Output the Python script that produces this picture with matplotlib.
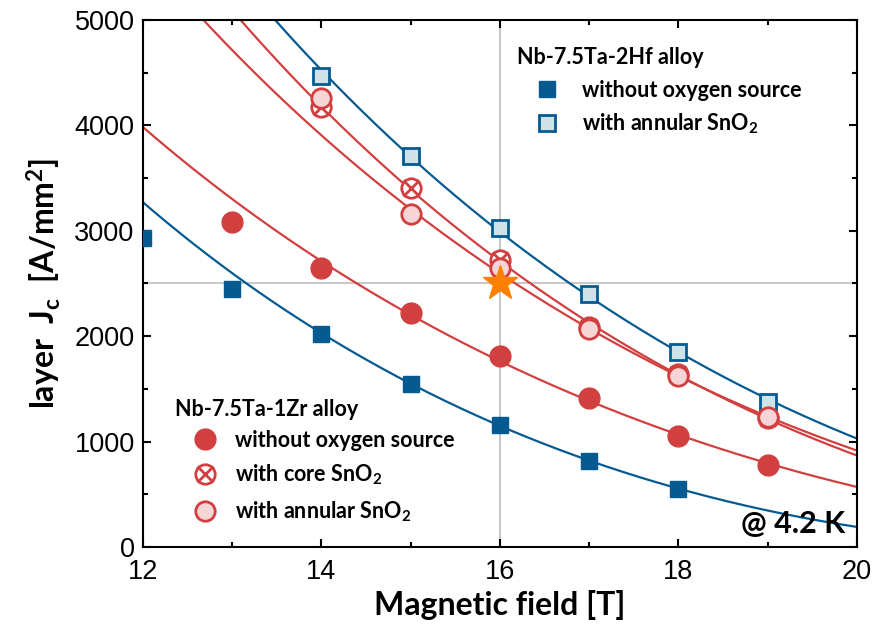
import numpy as np
import matplotlib.pyplot as plt
from matplotlib.lines import Line2D
from matplotlib.legend_handler import HandlerTuple

plt.rcParams["font.family"] = ["Liberation Sans", "DejaVu Sans"]
plt.rcParams["mathtext.fontset"] = "custom"
plt.rcParams["mathtext.rm"] = "Lato:bold"
plt.rcParams["mathtext.bf"] = "Lato:bold"
plt.rcParams["mathtext.it"] = "Lato:bold"

BLUE = "#055a92"
RED = "#d23f3f"
LIGHT_BLUE = "#cfe2e7"
PINK = "#f6d5d7"

# Nb-7.5Ta-2Hf alloy
hf_without_B = [12, 13, 14, 15, 16, 17, 18]
hf_without_J = [2930, 2450, 2020, 1550, 1160, 820, 550]
hf_annular_B = [14, 15, 16, 17, 18, 19]
hf_annular_J = [4470, 3710, 3030, 2400, 1850, 1380]

# Nb-7.5Ta-1Zr alloy
zr_without_B = [13, 14, 15, 16, 17, 18, 19]
zr_without_J = [3080, 2650, 2220, 1810, 1410, 1050, 780]
zr_core_B = [14, 15, 16, 17, 18, 19]
zr_core_J = [4170, 3410, 2720, 2090, 1640, 1220]
zr_annular_B = [14, 15, 16, 17, 18, 19]
zr_annular_J = [4260, 3160, 2650, 2070, 1620, 1230]

# lowest field used in each Kramer fit (lower points left out of the fit)
fit_from = {"hf_without": 14, "hf_annular": 14, "zr_without": 14, "zr_core": 14, "zr_annular": 15}

target_B = 16
target_J = 2500


def kramer_curve(B, J, bmin):
    B = np.asarray(B, float)
    J = np.asarray(J, float)
    m = B >= bmin
    k = np.sqrt(J[m]) * B[m] ** 0.25
    slope, icpt = np.polyfit(B[m], k, 1)
    bb = np.linspace(11.5, 20.5, 300)
    kk = np.clip(slope * bb + icpt, 0, None)
    return bb, (kk / bb ** 0.25) ** 2


fig = plt.figure(figsize=(8.75, 6.28), dpi=100)
ax = fig.add_axes([0.1634, 0.129, 0.8160, 0.8392])

ax.axhline(target_J, color="#bdbdbd", lw=1.2, zorder=0)
ax.axvline(target_B, color="#bdbdbd", lw=1.2, zorder=0)

series = [
    ("hf_without", hf_without_B, hf_without_J, BLUE),
    ("hf_annular", hf_annular_B, hf_annular_J, BLUE),
    ("zr_without", zr_without_B, zr_without_J, RED),
    ("zr_core", zr_core_B, zr_core_J, RED),
    ("zr_annular", zr_annular_B, zr_annular_J, RED),
]
for key, B, J, c in series:
    bb, jj = kramer_curve(B, J, fit_from[key])
    ax.plot(bb, jj, color=c, lw=1.6, zorder=2)

ax.plot(hf_without_B, hf_without_J, "s", ms=11, color=BLUE, mec=BLUE, zorder=3)
ax.plot(hf_annular_B, hf_annular_J, "s", ms=11, mfc=LIGHT_BLUE, mec=BLUE, mew=2, zorder=3)
ax.plot(zr_without_B, zr_without_J, "o", ms=15, color=RED, zorder=3)
ax.plot(zr_core_B, zr_core_J, "o", ms=14, mfc="white", mec=RED, mew=2, zorder=3)
ax.plot(zr_core_B, zr_core_J, "x", ms=12, mec=RED, mew=2, zorder=3)
ax.plot(zr_annular_B, zr_annular_J, "o", ms=14, mfc=PINK, mec=RED, mew=2, zorder=4)
ax.plot([target_B], [target_J], "*", ms=26, color="#ff8000", mec="#ff8000", zorder=5)

ax.set_xlim(12, 20)
ax.set_ylim(0, 5000)
ax.set_xticks(np.arange(12, 21, 2))
ax.set_xticks(np.arange(13, 20, 2), minor=True)
ax.set_yticks(np.arange(0, 5001, 1000))
ax.set_yticks(np.arange(500, 5000, 1000), minor=True)
ax.tick_params(which="both", direction="in", top=True, right=True, width=1.5)
ax.tick_params(which="major", length=6, labelsize=19.5)
ax.tick_params(which="minor", length=3.5)
ax.tick_params(axis="x", which="major", pad=9)
ax.tick_params(axis="y", which="major", pad=6)
for s in ax.spines.values():
    s.set_linewidth(1.5)

lab = dict(fontfamily="Lato", fontweight="bold", fontsize=23)
ax.set_xlabel("Magnetic field [T]", labelpad=3, **lab)
ax.set_ylabel(r"layer  J$_\mathbf{c}$  [A/mm$^\mathbf{2}$]", labelpad=8, **lab)

ax.text(0.983, 0.027, "@ 4.2 K", transform=ax.transAxes, ha="right", va="baseline",
        fontfamily="Lato", fontweight="bold", fontsize=22)

item_font = dict(family="Lato", weight="bold", size=15.5)
title_kw = dict(fontfamily="Lato", fontweight="bold", fontsize=15.5, ha="left", va="center")

# Hf legend
ax.text(0.524, 0.928, "Nb-7.5Ta-2Hf alloy", transform=ax.transAxes, **title_kw)
h1 = Line2D([], [], ls="none", marker="s", ms=11, color=BLUE)
h2 = Line2D([], [], ls="none", marker="s", ms=11, mfc=LIGHT_BLUE, mec=BLUE, mew=2)
leg1 = ax.legend([h1, h2], ["without oxygen source", "with annular SnO$_2$"],
                 loc="upper left", bbox_to_anchor=(0.548, 0.887), frameon=False,
                 prop=item_font, handlelength=1.2, handletextpad=1.0, labelspacing=0.5,
                 borderpad=0, borderaxespad=0)
ax.add_artist(leg1)

# Zr legend
ax.text(0.045, 0.26, "Nb-7.5Ta-1Zr alloy", transform=ax.transAxes, **title_kw)
r1 = Line2D([], [], ls="none", marker="o", ms=15, color=RED)
r2a = Line2D([], [], ls="none", marker="o", ms=14, mfc="white", mec=RED, mew=2)
r2b = Line2D([], [], ls="none", marker="x", ms=12, mec=RED, mew=2)
r3 = Line2D([], [], ls="none", marker="o", ms=14, mfc=PINK, mec=RED, mew=2)
ax.legend([r1, (r2a, r2b), r3],
          ["without oxygen source", "with core SnO$_2$", "with annular SnO$_2$"],
          handler_map={tuple: HandlerTuple(ndivide=1, pad=0)},
          loc="upper left", bbox_to_anchor=(0.0686, 0.222), frameon=False,
          prop=item_font, handlelength=1.2, handletextpad=0.8, labelspacing=0.55,
          borderpad=0, borderaxespad=0)

fig.savefig("out.png", dpi=100)
